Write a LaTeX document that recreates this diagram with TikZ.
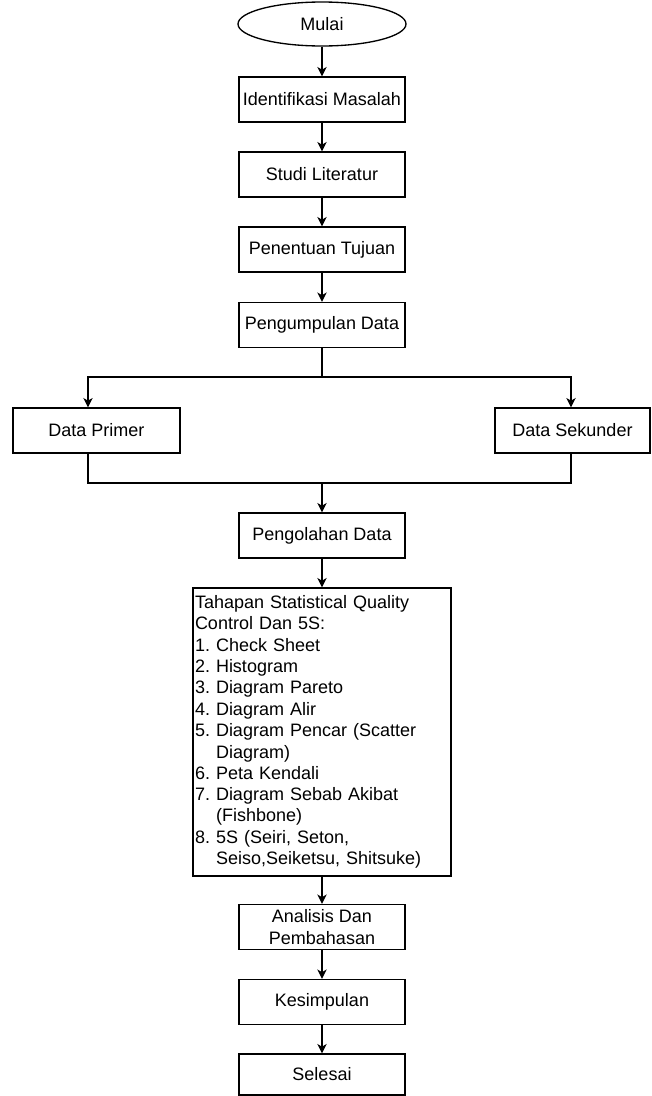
\documentclass[tikz,border=0pt]{standalone}
\usepackage{fontspec}
\setmainfont{Liberation Sans}
\usetikzlibrary{%
  arrows.meta,%
  shapes.geometric,% wg. ellipse
  positioning%
}

\begin{document}
\begin{tikzpicture}
[x=0.75pt, y=-0.75pt,
font=\fontsize{13.5}{16}\selectfont\frenchspacing, draw=black, line width=1pt,
>={Stealth[length=7pt,width=7pt,inset=2pt]},
startnode/.style={ellipse,draw=black,minimum width=126pt,minimum height=33pt,inner sep=0pt},
procbox/.style={rectangle,draw=black,minimum width=124.5pt,minimum height=33.75pt,inner sep=1pt},
listbox/.style={rectangle,draw=black,minimum width=193.5pt,minimum height=216pt,inner sep=1.5pt,
  text width=190.5pt,align=left}
]

\useasboundingbox (0,0) rectangle (651,1096);

\def \colx {322}
\def \datay {430.5}
\def \splity {377}
\def \joiny {483}

% Start
\node[startnode] (mulai) at (\colx,24) {Mulai};

% Upper Steps
\foreach \y/\n/\t in {99.5/ident/Identifikasi Masalah, 174.5/studi/Studi Literatur,
  249.5/tujuan/Penentuan Tujuan, 325/kumpul/Pengumpulan Data} {
  \node[procbox] (\n) at (\colx,\y) {\t};
}

% Data Nodes
\node[procbox,minimum width=125.25pt] (primer) at (96.5,\datay) {Data Primer};
\node[procbox,minimum width=116.25pt] (sekunder) at (572.5,\datay) {Data Sekunder};

\node[procbox] (olah) at (\colx,535.5) {Pengolahan Data};

% SQC List
\node[listbox] (tahap) at (\colx,732) {Tahapan Statistical Quality\\
  Control Dan 5S:\\
  1. Check Sheet\\
  2. Histogram\\
  3. Diagram Pareto\\
  4. Diagram Alir\\
  5. Diagram Pencar (Scatter\\
  \phantom{5. }Diagram)\\
  6. Peta Kendali\\
  7. Diagram Sebab Akibat\\
  \phantom{7. }(Fishbone)\\
  8. 5S (Seiri, Seton,\\
  \phantom{8. }Seiso,Seiketsu, Shitsuke)};

% Lower Steps
\node[procbox,align=center] (analisis) at (\colx,927) {Analisis Dan\\Pembahasan};
\node[procbox] (simpul) at (\colx,1002) {Kesimpulan};
\node[procbox,minimum height=30.75pt] (selesai) at (\colx,1074.5) {Selesai};

\coordinate (split) at (\colx,\splity);
\coordinate (join) at (\colx,\joiny);

% Edges
\foreach \a/\b in {mulai/ident, ident/studi, studi/tujuan, tujuan/kumpul} {
  \draw[->] (\a) -- (\b);
}

\draw (kumpul) -- (split);
\draw[->] (split) -| ([xshift=-6.4pt]primer.north);
\draw[->] (split) -| ([xshift=-1.1pt]sekunder.north);
\draw ([xshift=-6.4pt]primer.south) |- (join) -| ([xshift=-1.1pt]sekunder.south);
\draw[->] (join) -- (olah);

\foreach \a/\b in {olah/tahap, tahap/analisis, analisis/simpul, simpul/selesai} {
  \draw[->] (\a) -- (\b);
}
\end{tikzpicture}
\end{document}
